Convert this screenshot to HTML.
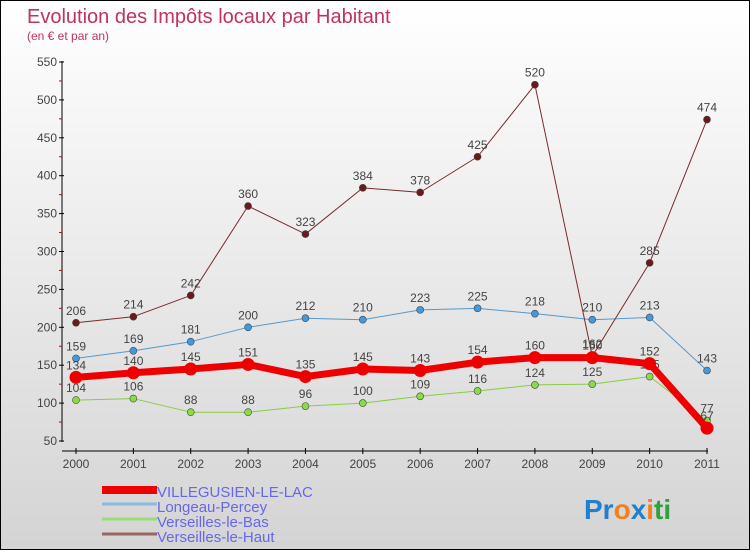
<!DOCTYPE html>
<html><head><meta charset="utf-8"><style>
html,body{margin:0;padding:0}
body{width:750px;height:550px;overflow:hidden;font-family:"Liberation Sans",sans-serif}
#wrap{position:relative;width:748px;height:548px;border:1px solid #000;background:linear-gradient(#ffffff,#d4d4d4)}
svg{position:absolute;left:0;top:0}
</style></head><body>
<div id="wrap">
<svg id="chart" width="748" height="548">
<text x="26" y="22" font-size="20" fill="#c0325f">Evolution des Impôts locaux par Habitant</text>
<text x="26" y="39" font-size="12" fill="#c0325f">(en € et par an)</text>
<g id="axes"></g><g id="series"></g><g id="legend"></g>
<text x="583" y="518" font-size="28" font-weight="bold"><tspan fill="#1f7fd0">Pr</tspan><tspan fill="#f08020">o</tspan><tspan fill="#1f7fd0">x</tspan><tspan fill="#f08020">i</tspan><tspan fill="#30a040">ti</tspan></text>
</svg></div>
<script>
const years=["2000","2001","2002","2003","2004","2005","2006","2007","2008","2009","2010","2011"];
const yTicks=[50,100,150,200,250,300,350,400,450,500,550];
const villegusien=[134,140,145,151,135,145,143,154,160,160,152,67];
const longeau=[159,169,181,200,212,210,223,225,218,210,213,143];
const verBas=[104,106,88,88,96,100,109,116,124,125,135,77];
const verHaut=[206,214,242,360,323,384,378,425,520,162,285,474];
const seriesNames=["VILLEGUSIEN-LE-LAC","Longeau-Percey","Verseilles-le-Bas","Verseilles-le-Haut"];
const NS="http://www.w3.org/2000/svg";
const X=i=>75+i*(706-75)/11;
const Y=v=>440-(v-50)*(440-61)/500;
function mk(tag,attrs,parent){const e=document.createElementNS(NS,tag);for(const k in attrs)e.setAttribute(k,attrs[k]);parent.appendChild(e);return e;}
const ax=document.getElementById('axes');
const yl=mk('line',{x1:61,y1:60,x2:61,y2:441,stroke:'#000'},ax);

const xl=mk('line',{x1:61,y1:450,x2:707,y2:450,stroke:'#000'},ax);

yTicks.forEach((v,i)=>{
 mk('line',{x1:58,y1:Y(v),x2:63,y2:Y(v),stroke:'#000'},ax);
 if(i<yTicks.length-1)mk('line',{x1:58,y1:Y(v+25),x2:61,y2:Y(v+25),stroke:'#c00'},ax);
 const t=mk('text',{x:56,y:Y(v)+4,'font-size':12,fill:'#444','text-anchor':'end'},ax);t.textContent=v;
 
});
years.forEach((y,i)=>{
 mk('line',{x1:X(i),y1:447,x2:X(i),y2:453,stroke:'#000'},ax);
 const t=mk('text',{x:X(i),y:467,'font-size':12,fill:'#444','text-anchor':'middle'},ax);t.textContent=y;
 
});
const sg=document.getElementById('series');
const defs=[
 {d:verBas,c:'#88cc44',pt:'#88dd44',w:1,r:3.5,n:'series-verseilles-le-bas'},
 {d:longeau,c:'#5599cc',pt:'#4499dd',w:1,r:3.5,n:'series-longeau-percey'},
 {d:verHaut,c:'#7a2a2a',pt:'#6a1a1a',w:1,r:3.5,n:'series-verseilles-le-haut'},
 {d:villegusien,c:'#ee0000',pt:'#ee0000',w:7,r:6.5,n:'series-villegusien-le-lac'}
];
defs.forEach(s=>{
 const g=mk('g',{},sg);
 mk('polyline',{points:s.d.map((v,i)=>X(i)+','+Y(v)).join(' '),fill:'none',stroke:s.c,'stroke-width':s.w,'stroke-linejoin':'round'},g);
 s.d.forEach((v,i)=>{
  const c=mk('circle',{cx:X(i),cy:Y(v),r:s.r,fill:s.pt,stroke:'#444','stroke-width':s.w>1?0:0.6},g);
  
  const t=mk('text',{x:X(i),y:Y(v)-8,'font-size':12,fill:'#444','text-anchor':'middle'},g);t.textContent=v;
  
 });
});
const lg=document.getElementById('legend');
const lc=['#ee0000','#88bbdd','#99dd77','#996666'];
seriesNames.forEach((n,i)=>{
 const y=494+i*15;
 const g=mk('g',{},lg);
 mk('line',{x1:101,y1:y-6+ (i==0?1:0),x2:156,y2:y-6+(i==0?1:0),stroke:lc[i],'stroke-width':i==0?8:3},g);
 const t=mk('text',{x:156,y:y+2,'font-size':15,fill:'#6666ee'},g);t.textContent=n;
});
</script>
</body></html>
